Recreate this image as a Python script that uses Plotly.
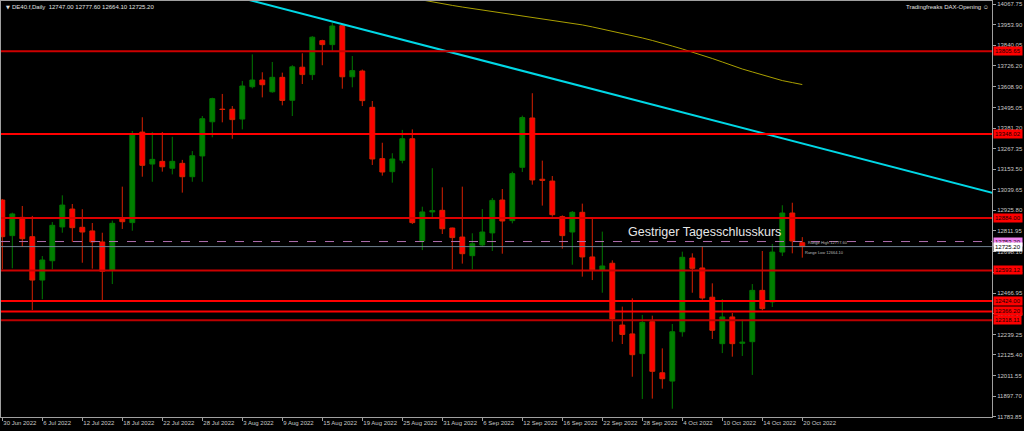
import pandas as pd
import plotly.graph_objects as go

# ---------------- data ----------------
dates = pd.bdate_range("2022-06-30", "2022-10-20")  # 81 daily bars

opens = [12983, 12786, 12887, 12780, 12540, 12647, 12834, 12933, 12832, 12812,
         12751, 12596, 12885, 12858, 13359, 13182, 13197, 13159, 13186, 13112,
         13227, 13416, 13486, 13485, 13431, 13610, 13647, 13582, 13662, 13535,
         13718, 13677, 13865, 13843, 13948, 13665, 13697, 13496, 13212, 13140,
         13203, 13322, 12756, 12917, 12926, 12828, 12778, 12675, 12734, 12801,
         12983, 12869, 13164, 13437, 13098, 13088, 12891, 12806, 12915, 12668,
         12596, 12633, 12291, 12242, 12133, 12310, 12027, 11981, 12254, 12662,
         12607, 12445, 12188, 12336, 12190, 12199, 12483, 12419, 12695, 12911,
         12747.00]
highs = [12989, 12913, 12950, 12895, 12673, 12861, 13009, 12961, 12932, 12856,
         12802, 12869, 13057, 13365, 13441, 13359, 13359, 13333, 13205, 13254,
         13448, 13549, 13570, 13503, 13642, 13789, 13690, 13747, 13688, 13729,
         13795, 13890, 13870, 13964, 13955, 13780, 13705, 13531, 13300, 13242,
         13371, 13374, 12946, 13159, 13053, 12830, 13057, 12799, 12933, 12994,
         13044, 13140, 13450, 13574, 13201, 13116, 12898, 12922, 12963, 12889,
         12808, 12649, 12393, 12439, 12347, 12343, 12162, 12297, 12697, 12688,
         12725, 12522, 12435, 12358, 12321, 12518, 12701, 12740, 12954, 12968,
         12777.60]
lows = [12600, 12605, 12723, 12374, 12434, 12600, 12802, 12751, 12636, 12603,
        12419, 12518, 12823, 12813, 13112, 13084, 13140, 13125, 13024, 13084,
        13084, 13330, 13413, 13322, 13374, 13601, 13551, 13577, 13507, 13448,
        13625, 13647, 13729, 13809, 13599, 13607, 13503, 13177, 13118, 13079,
        13186, 12850, 12706, 12882, 12795, 12600, 12631, 12600, 12725, 12701,
        12686, 12854, 13138, 13068, 12952, 12891, 12714, 12625, 12559, 12540,
        12470, 12199, 12186, 12005, 11882, 11884, 11939, 11828, 12227, 12470,
        12431, 12214, 12136, 12116, 12120, 12015, 12373, 12391, 12673, 12688,
        12664.10]
closes = [12780, 12906, 12769, 12540, 12651, 12843, 12955, 12830, 12806, 12751,
          12589, 12854, 12863, 13347, 13175, 13208, 13167, 13197, 13112, 13228,
          13433, 13544, 13484, 13428, 13614, 13647, 13621, 13662, 13534, 13720,
          13677, 13884, 13843, 13946, 13665, 13699, 13533, 13210, 13138, 13210,
          13322, 12858, 12917, 12924, 12824, 12775, 12686, 12741, 12806, 12981,
          12867, 13129, 13439, 13094, 13092, 12902, 12786, 12915, 12668, 12597,
          12618, 12325, 12239, 12127, 12306, 12035, 11994, 12254, 12666, 12605,
          12441, 12262, 12336, 12188, 12196, 12483, 12382, 12695, 12911, 12756,
          12725.20]

# long moving average (olive line), one value per bar from 29 Aug 2022 on
ma_start = "2022-08-29"
ma_values = [14090, 14079, 14068, 14060, 14051, 14043, 14035, 14026, 14018, 14010,
             14001, 13993, 13985, 13976, 13968, 13960, 13952, 13941, 13929, 13918,
             13907, 13893, 13880, 13866, 13852, 13835, 13819, 13802, 13786, 13766,
             13747, 13727, 13708, 13692, 13675, 13658, 13644, 13633, 13622]

# falling trend line anchors (date, price)
trend_dates = ["2022-08-15", "2022-10-20"]
trend_prices = [13985, 13296]

levels = [13805.65, 13348.02, 12884.00, 12593.12, 12424.00, 12366.20, 12318.11]
level_colors = ["#cc0000", "#ff0000", "#dd0000", "#cc0000", "#ff0000", "#ff0000", "#bb0000"]
bid_price = 12753.20

tick_dates = ["2022-06-30", "2022-07-06", "2022-07-12", "2022-07-18", "2022-07-22",
              "2022-07-28", "2022-08-03", "2022-08-09", "2022-08-15", "2022-08-19",
              "2022-08-25", "2022-08-31", "2022-09-06", "2022-09-12", "2022-09-16",
              "2022-09-22", "2022-09-28", "2022-10-04", "2022-10-10", "2022-10-14",
              "2022-10-20"]
tick_text = ["30 Jun 2022", "6 Jul 2022", "12 Jul 2022", "18 Jul 2022", "22 Jul 2022",
             "28 Jul 2022", "3 Aug 2022", "9 Aug 2022", "15 Aug 2022", "19 Aug 2022",
             "25 Aug 2022", "31 Aug 2022", "6 Sep 2022", "12 Sep 2022", "16 Sep 2022",
             "22 Sep 2022", "28 Sep 2022", "4 Oct 2022", "10 Oct 2022", "14 Oct 2022",
             "20 Oct 2022"]
y_ticks = [14067.75, 13953.90, 13840.05, 13726.20, 13608.90, 13495.05, 13381.20,
           13267.35, 13153.50, 13039.65, 12925.80, 12811.95, 12698.10, 12584.25,
           12466.95, 12353.10, 12239.25, 12125.40, 12011.55, 11897.70, 11783.85]

# ---------------- figure ----------------
xi = list(range(len(dates)))
pos = {d.strftime("%Y-%m-%d"): i for i, d in enumerate(dates)}

W, H = 1024, 431
ML, MR, MT, MB = 1, 32, 1, 14
PW, PH = W - ML - MR, H - MT - MB


def px_x(p):
    return (p - ML) / PW


def px_y(p):
    return (H - MB - p) / PH


FONT = "Liberation Sans, Arial, sans-serif"

fig = go.Figure()

fig.add_trace(go.Candlestick(
    x=xi, open=opens, high=highs, low=lows, close=closes,
    increasing=dict(line=dict(color="#007800", width=1), fillcolor="#008000"),
    decreasing=dict(line=dict(color="#d82000", width=1), fillcolor="#ff0000"),
    whiskerwidth=0, showlegend=False, hoverinfo="skip"))

ma_i0 = pos[ma_start]
ma_x = xi[ma_i0:ma_i0 + len(ma_values)]
fig.add_trace(go.Scatter(x=ma_x, y=ma_values, mode="lines",
                         line=dict(color="#aaa000", width=1),
                         showlegend=False, hoverinfo="skip"))

t0, t1 = pos[trend_dates[0]], pos[trend_dates[1]]
slope = (trend_prices[1] - trend_prices[0]) / (t1 - t0)
tx = [20, 100]
ty = [trend_prices[0] + slope * (v - t0) for v in tx]
fig.add_trace(go.Scatter(x=tx, y=ty, mode="lines",
                         line=dict(color="#00d8e6", width=2),
                         showlegend=False, hoverinfo="skip"))

for lv, c in zip(levels, level_colors):
    fig.add_hline(y=lv, line=dict(color=c, width=2))
fig.add_hline(y=bid_price, line=dict(color="#b070b0", width=1, dash="dash"))
fig.add_hline(y=closes[-1], line=dict(color="#708090", width=1))

ann = []
ann.append(dict(xref="paper", yref="paper", x=px_x(4), y=px_y(7), text="▼",
                showarrow=False, xanchor="left", yanchor="middle",
                font=dict(size=5, color="#e0e0e0", family="DejaVu Sans")))
ann.append(dict(xref="paper", yref="paper", x=px_x(10), y=px_y(7),
                text="DE40.f,Daily\u00a0\u00a0%.2f %.2f %.2f %.2f" % (opens[-1], highs[-1], lows[-1], closes[-1]),
                showarrow=False, xanchor="left", yanchor="middle",
                font=dict(size=6, color="#e0e0e0", family=FONT)))
ann.append(dict(xref="paper", yref="paper", x=px_x(991), y=px_y(7),
                text="Tradingfreaks DAX-Opening ☺",
                showarrow=False, xanchor="right", yanchor="middle",
                font=dict(size=6, color="#e0e0e0", family=FONT)))
ann.append(dict(xref="paper", yref="paper", x=px_x(626), y=px_y(232),
                text="Gestriger Tagesschlusskurs",
                showarrow=False, xanchor="left", yanchor="middle",
                font=dict(size=12.5, color="#e6e6e6", family=FONT)))
ann.append(dict(xref="paper", yref="paper", x=px_x(806), y=px_y(243),
                text="Range High 12777.60", showarrow=False, xanchor="left",
                yanchor="middle", font=dict(size=4, color="#bbbbbb", family=FONT)))
ann.append(dict(xref="paper", yref="paper", x=px_x(803), y=px_y(252),
                text="Range Low 12664.10", showarrow=False, xanchor="left",
                yanchor="middle", font=dict(size=4, color="#bbbbbb", family=FONT)))

for lv in levels:
    ann.append(dict(xref="paper", yref="y", x=1, y=lv, xshift=1, text="%.2f" % lv,
                    showarrow=False, xanchor="left", yanchor="middle",
                    bgcolor="#ff0000", borderpad=1,
                    font=dict(size=6, color="#200000", family=FONT)))
ann.append(dict(xref="paper", yref="y", x=1, y=bid_price, xshift=1, text="%.2f" % bid_price,
                showarrow=False, xanchor="left", yanchor="middle",
                bgcolor="#ee82ee", borderpad=1,
                font=dict(size=6, color="#200020", family=FONT)))
ann.append(dict(xref="paper", yref="y", x=1, y=closes[-1], xshift=1, text="%.2f" % closes[-1],
                showarrow=False, xanchor="left", yanchor="middle",
                bgcolor="#ffffff", borderpad=1,
                font=dict(size=6, color="#000000", family=FONT)))

fig.update_layout(
    width=W, height=H,
    margin=dict(l=ML, r=MR, t=MT, b=MB, autoexpand=False),
    paper_bgcolor="#000000", plot_bgcolor="#000000",
    showlegend=False, annotations=ann, hovermode=False,
    xaxis=dict(range=[-0.13, 98.97], showgrid=False, zeroline=False,
               showline=True, linecolor="#a0a0a0", linewidth=1, mirror=True,
               ticks="outside", ticklen=3, tickcolor="#a0a0a0",
               tickvals=[pos[d] for d in tick_dates], ticktext=tick_text,
               ticklabelposition="outside right", tickangle=0,
               tickfont=dict(size=6, color="#c8c8c8", family=FONT),
               rangeslider=dict(visible=False), fixedrange=True),
    yaxis=dict(range=[11782.2, 14084.4], side="right", showgrid=False,
               zeroline=False, showline=True, linecolor="#a0a0a0", linewidth=1,
               mirror=True, ticks="outside", ticklen=3, tickcolor="#a0a0a0",
               tickvals=y_ticks, ticktext=["%.2f" % v for v in y_ticks],
               tickfont=dict(size=6, color="#c8c8c8", family=FONT),
               fixedrange=True),
)

fig.write_html("out.html", config={"displayModeBar": False},
               post_script="document.body.style.margin='0';document.body.style.background='#000';")
